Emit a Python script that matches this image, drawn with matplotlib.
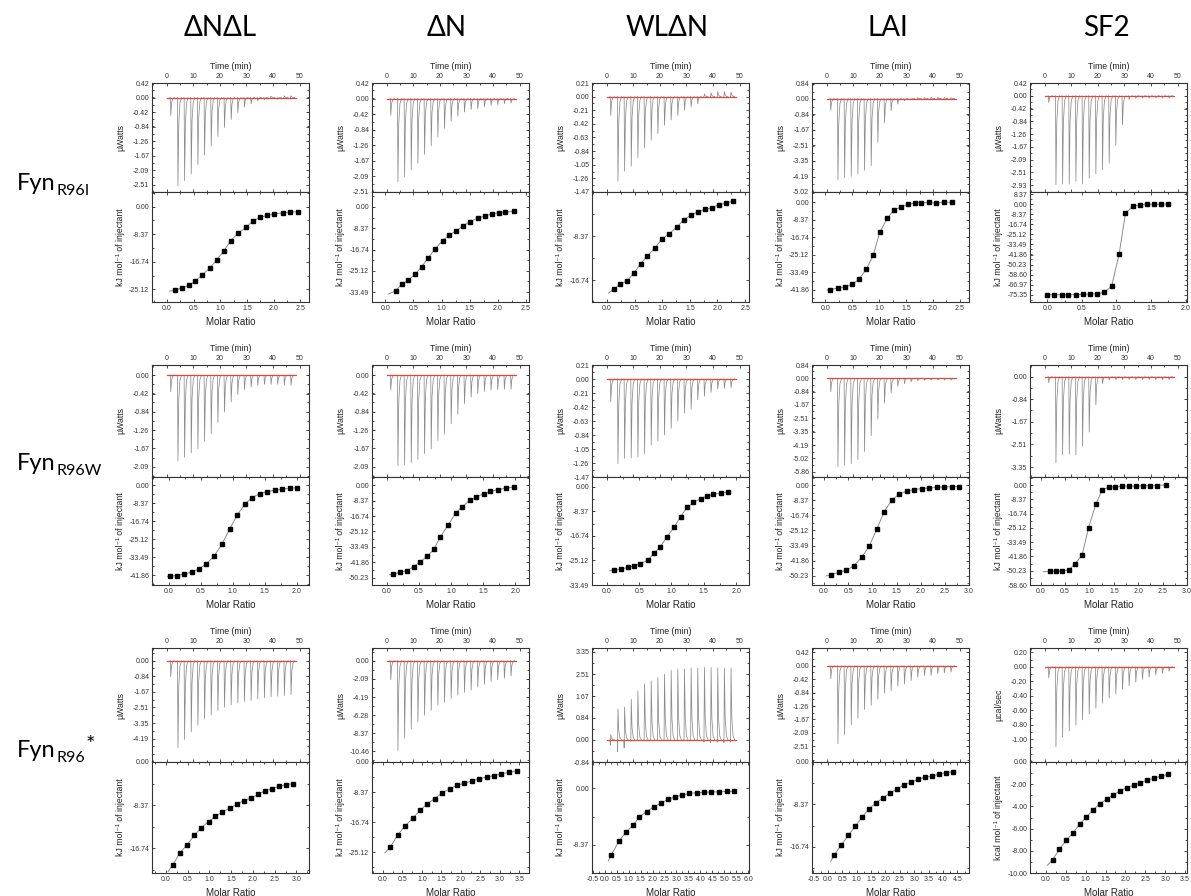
#!/usr/bin/env python3
"""
ITC titrations of three Fyn SH3 variants against five peptides
"""

import matplotlib.pyplot as plt
from matplotlib.ticker import AutoMinorLocator

W, H = 1191, 896

plt.rcParams['font.family'] = ['Liberation Sans', 'DejaVu Sans']
plt.rcParams['axes.edgecolor'] = '#333333'
plt.rcParams['axes.linewidth'] = 0.8
plt.rcParams['xtick.color'] = '#333333'
plt.rcParams['ytick.color'] = '#333333'
plt.rcParams['axes.labelcolor'] = '#222222'

peptides = ['ΔNΔL', 'ΔN', 'WLΔN', 'LAI', 'SF2']
variants = [('Fyn', 'R96I', ''), ('Fyn', 'R96W', ''), ('Fyn', 'R96', '*')]

# injection times (min), shared by all runs
inj_time = [1.3, 4.0, 6.5, 9.0, 11.5, 14.0, 16.5, 19.0, 21.5, 24.0,
            26.5, 29.0, 31.5, 34.0, 36.5, 39.0, 41.5, 44.0, 46.5]
time_ticks = ['0', '10', '20', '30', '40', '50']
ratio_ticks = ['-0.5', '0.0', '0.5', '1.0', '1.5', '2.0', '2.5', '3.0',
               '3.5', '4.0', '4.5', '5.0', '5.5', '6.0']

# y tick labels (values are the labels)
uw_021 = ['0.21', '0.00', '-0.21', '-0.42', '-0.63', '-0.84', '-1.05', '-1.26', '-1.47']
uw_042 = ['0.42', '0.00', '-0.42', '-0.84', '-1.26', '-1.67', '-2.09', '-2.51', '-2.93']
uw_084 = ['0.84', '0.00', '-0.84', '-1.67', '-2.51', '-3.35', '-4.19', '-5.02', '-5.86']
uw_209 = ['0.00', '-2.09', '-4.19', '-6.28', '-8.37', '-10.46']
uw_up = ['3.35', '2.51', '1.67', '0.84', '0.00', '-0.84']
ucal = ['0.20', '0.00', '-0.20', '-0.40', '-0.60', '-0.80', '-1.00']
kj = ['8.37', '0.00', '-8.37', '-16.74', '-25.12', '-33.49', '-41.86',
      '-50.23', '-58.60', '-66.97', '-75.35']
kcal = ['0.00', '-2.00', '-4.00', '-6.00', '-8.00', '-10.00']

# ---- Fyn R96I ----
r96i_dndl_peak = [-0.52, -2.54, -2.39, -2.20, -1.93, -1.66, -1.40, -1.12, -0.86, -0.63,
                  -0.44, -0.27, -0.18, -0.10, -0.06, 0.04, -0.05, 0.05, 0.05]
r96i_dndl_ratio = [0.16, 0.28, 0.41, 0.53, 0.66, 0.80, 0.93, 1.06, 1.19, 1.33,
                   1.48, 1.61, 1.75, 1.88, 2.01, 2.18, 2.31, 2.46]
r96i_dndl_heat = [-25.4, -24.7, -23.9, -22.7, -20.7, -18.7, -16.2, -13.6, -10.4, -8.1,
                  -6.3, -4.3, -3.2, -2.6, -2.2, -1.8, -1.6, -1.5]

r96i_dn_peak = [-0.45, -2.23, -2.10, -1.92, -1.74, -1.50, -1.27, -1.03, -0.80, -0.60,
                -0.47, -0.36, -0.29, -0.27, -0.22, -0.18, -0.16, -0.13, -0.12]
r96i_dn_ratio = [0.18, 0.29, 0.41, 0.53, 0.65, 0.76, 0.88, 1.02, 1.14, 1.26,
                 1.38, 1.50, 1.65, 1.78, 1.90, 2.03, 2.14, 2.29]
r96i_dn_heat = [-33.0, -30.5, -28.8, -26.4, -23.5, -20.0, -16.7, -13.2, -11.1, -9.4,
                -7.5, -5.8, -4.4, -3.5, -2.7, -2.2, -2.0, -1.7]

r96i_wldn_peak = [-0.29, -1.30, -1.15, -1.07, -0.94, -0.79, -0.67, -0.57, -0.44, -0.36,
                  -0.29, -0.21, -0.16, -0.11, 0.04, 0.06, 0.08, 0.08, 0.07]
r96i_wldn_ratio = [0.12, 0.24, 0.36, 0.49, 0.61, 0.73, 0.87, 1.00, 1.13, 1.27,
                   1.39, 1.52, 1.64, 1.77, 1.90, 2.03, 2.15, 2.28]
r96i_wldn_heat = [-18.5, -17.5, -16.9, -15.4, -13.6, -12.2, -10.6, -8.9, -7.9, -6.6,
                  -5.3, -4.4, -3.8, -3.3, -3.0, -2.4, -2.1, -1.7]

r96i_lai_peak = [-0.63, -4.38, -4.25, -4.18, -4.05, -3.85, -3.60, -2.35, -1.30, -0.65,
                 -0.30, -0.12, -0.05, 0.05, 0.05, 0.06, 0.06, 0.06, 0.05]
r96i_lai_ratio = [0.09, 0.24, 0.36, 0.50, 0.62, 0.76, 0.89, 1.01, 1.15, 1.27,
                  1.40, 1.53, 1.66, 1.78, 1.92, 2.06, 2.20, 2.36]
r96i_lai_heat = [-41.9, -41.0, -40.6, -39.4, -37.0, -32.2, -25.3, -14.5, -7.7, -4.0,
                 -2.4, -1.1, -0.5, -0.3, -0.2, -0.5, 0.0, -0.2]

r96i_sf2_peak = [-0.22, -2.91, -2.89, -2.89, -2.80, -2.89, -2.70, -2.55, -2.42, -2.20,
                 -1.62, -0.95, -0.12, -0.08, -0.07, -0.07, -0.07, -0.07, -0.07]
r96i_sf2_ratio = [0.00, 0.10, 0.21, 0.30, 0.41, 0.51, 0.62, 0.72, 0.82, 0.93,
                  1.04, 1.13, 1.24, 1.34, 1.44, 1.55, 1.65, 1.75]
r96i_sf2_heat = [-75.4, -75.4, -75.4, -75.4, -75.4, -75.1, -74.9, -74.6, -73.5, -68.4,
                 -41.1, -7.5, -1.4, -0.6, 0.0, 0.0, 0.0, 0.3]

# ---- Fyn R96W ----
r96w_dndl_peak = [-0.38, -1.95, -1.87, -1.77, -1.68, -1.51, -1.34, -1.08, -0.84, -0.61,
                  -0.44, -0.33, -0.27, -0.23, -0.21, -0.21, -0.21, -0.23, -0.23]
r96w_dndl_ratio = [0.02, 0.13, 0.24, 0.36, 0.48, 0.59, 0.71, 0.83, 0.95, 1.07,
                   1.19, 1.30, 1.42, 1.54, 1.66, 1.77, 1.89, 2.01]
r96w_dndl_heat = [-42.4, -42.1, -41.4, -40.4, -38.9, -36.6, -33.0, -27.5, -20.5, -13.8,
                  -8.8, -5.7, -3.9, -2.9, -2.2, -1.7, -1.4, -1.1]

r96w_dn_peak = [-0.34, -2.06, -2.04, -2.00, -1.92, -1.79, -1.68, -1.49, -1.34, -1.11,
                -0.89, -0.65, -0.50, -0.42, -0.37, -0.34, -0.33, -0.32, -0.32]
r96w_dn_ratio = [0.10, 0.21, 0.31, 0.42, 0.52, 0.63, 0.73, 0.83, 0.95, 1.07,
                 1.17, 1.29, 1.39, 1.51, 1.61, 1.73, 1.85, 1.98]
r96w_dn_heat = [-48.2, -47.3, -46.4, -44.2, -41.5, -38.6, -34.9, -28.2, -21.8, -15.1,
                -11.8, -8.2, -6.4, -4.5, -3.3, -2.4, -1.5, -0.9]

r96w_wldn_peak = [-0.34, -1.27, -1.19, -1.18, -1.17, -1.12, -0.99, -0.93, -0.84, -0.74,
                  -0.63, -0.51, -0.45, -0.31, -0.26, -0.20, -0.15, -0.14, -0.13]
r96w_wldn_ratio = [0.11, 0.22, 0.32, 0.42, 0.52, 0.63, 0.73, 0.83, 0.93, 1.04,
                   1.14, 1.24, 1.34, 1.45, 1.55, 1.65, 1.77, 1.87]
r96w_wldn_heat = [-28.4, -28.1, -27.5, -26.9, -26.2, -25.1, -22.6, -20.4, -17.0, -13.8,
                  -10.2, -7.0, -5.3, -4.0, -3.1, -2.5, -2.1, -1.7]

r96w_lai_peak = [-0.84, -5.55, -5.45, -5.35, -5.10, -4.60, -3.60, -2.55, -1.55, -0.90,
                 -0.50, -0.33, -0.22, -0.15, -0.12, -0.10, -0.10, -0.10, -0.10]
r96w_lai_ratio = [0.15, 0.31, 0.46, 0.62, 0.78, 0.93, 1.09, 1.24, 1.40, 1.55,
                  1.71, 1.86, 2.02, 2.17, 2.33, 2.48, 2.64, 2.79]
r96w_lai_heat = [-49.6, -48.3, -47.3, -44.6, -40.0, -34.0, -24.5, -14.8, -8.3, -5.0,
                 -3.3, -2.4, -1.9, -1.5, -1.2, -0.9, -0.8, -0.7]

r96w_sf2_peak = [-0.22, -3.19, -2.90, -2.87, -2.90, -2.57, -2.05, -1.04, -0.25, -0.12,
                 -0.10, -0.10, -0.10, -0.10, -0.10, -0.10, -0.10, -0.10, -0.10]
r96w_sf2_ratio = [0.18, 0.31, 0.44, 0.57, 0.70, 0.85, 0.98, 1.13, 1.26, 1.39,
                  1.53, 1.67, 1.81, 1.95, 2.10, 2.25, 2.39, 2.56]
r96w_sf2_heat = [-50.6, -50.6, -50.4, -49.8, -46.3, -41.0, -25.0, -11.2, -2.9, -1.2,
                 -1.0, -0.6, -0.6, -0.6, -0.4, -0.4, -0.2, 0.2]

# ---- Fyn R96* ----
r96x_dndl_peak = [-0.86, -4.69, -4.23, -3.83, -3.47, -3.14, -2.92, -2.68, -2.50, -2.37,
                  -2.26, -2.19, -2.14, -2.04, -1.99, -1.95, -1.90, -1.86, -1.82]
r96x_dndl_ratio = [0.16, 0.32, 0.49, 0.65, 0.81, 0.98, 1.14, 1.30, 1.47, 1.63,
                   1.79, 1.96, 2.12, 2.28, 2.45, 2.61, 2.77, 2.93]
r96x_dndl_heat = [-20.0, -17.7, -16.1, -14.3, -12.8, -11.6, -10.6, -9.7, -9.0, -8.2,
                  -7.5, -7.0, -6.3, -5.6, -5.2, -4.7, -4.4, -4.2]

r96x_dn_peak = [-2.20, -10.40, -8.95, -7.86, -7.08, -6.30, -5.72, -5.14, -4.82, -4.36,
                -3.97, -3.66, -3.39, -3.00, -2.72, -2.41, -2.20, -2.02, -1.75]
r96x_dn_ratio = [0.19, 0.38, 0.57, 0.76, 0.95, 1.14, 1.33, 1.52, 1.71, 1.90,
                 2.09, 2.28, 2.47, 2.66, 2.85, 3.04, 3.23, 3.45]
r96x_dn_heat = [-23.7, -20.3, -17.8, -15.7, -13.5, -11.6, -10.2, -8.6, -7.5, -6.5,
                -5.9, -5.3, -4.7, -4.2, -3.8, -3.3, -2.9, -2.4]

r96x_wldn_peak = [0.20, 1.18, 1.25, 1.55, 1.87, 2.14, 2.25, 2.37, 2.50, 2.65,
                  2.70, 2.71, 2.74, 2.74, 2.76, 2.76, 2.74, 2.74, 2.74]
r96x_wldn_dip = [-0.20, -0.45, -0.30, -0.05, 0.0, 0.0, 0.0, 0.0, 0.0, 0.0,
                 0.0, 0.0, 0.0, 0.0, -0.08, -0.10, -0.08, -0.10, -0.08]
r96x_wldn_ratio = [0.28, 0.61, 0.90, 1.20, 1.45, 1.75, 2.07, 2.34, 2.65, 2.95,
                   3.24, 3.54, 3.85, 4.15, 4.46, 4.79, 5.10, 5.40]
r96x_wldn_heat = [-9.85, -7.78, -6.50, -5.42, -4.24, -3.45, -2.71, -2.22, -1.63, -1.23,
                  -0.99, -0.74, -0.64, -0.59, -0.54, -0.49, -0.44, -0.44]

r96x_lai_peak = [-0.40, -2.43, -2.16, -1.84, -1.63, -1.36, -1.23, -1.04, -0.85, -0.78,
                 -0.62, -0.56, -0.46, -0.35, -0.30, -0.30, -0.24, -0.21, -0.19]
r96x_lai_ratio = [0.22, 0.46, 0.71, 0.95, 1.19, 1.44, 1.68, 1.92, 2.16, 2.41,
                  2.65, 2.89, 3.14, 3.38, 3.62, 3.86, 4.11, 4.35]
r96x_lai_heat = [-18.4, -16.4, -14.5, -12.7, -10.9, -9.2, -8.0, -7.1, -6.1, -5.3,
                 -4.5, -4.0, -3.4, -3.0, -2.8, -2.4, -2.1, -1.9]

r96x_sf2_peak = [-0.15, -1.10, -0.97, -0.88, -0.80, -0.73, -0.65, -0.57, -0.50, -0.43,
                 -0.37, -0.31, -0.26, -0.21, -0.17, -0.14, -0.11, -0.09, -0.06]
r96x_sf2_ratio = [0.17, 0.34, 0.51, 0.68, 0.85, 1.02, 1.19, 1.36, 1.53, 1.70,
                  1.87, 2.04, 2.21, 2.38, 2.55, 2.72, 2.89, 3.06]
r96x_sf2_heat = [-8.8, -7.85, -7.05, -6.4, -5.6, -4.95, -4.3, -3.75, -3.35, -2.95,
                 -2.6, -2.3, -2.1, -1.85, -1.65, -1.45, -1.3, -1.1]

# per panel: data + axis ranges/tick labels, row by row
panels = [
    # Fyn R96I
    dict(peak=r96i_dndl_peak, ratio=r96i_dndl_ratio, heat=r96i_dndl_heat, fit0=(0.05, -25.7),
         top_ylim=(-2.72, 0.42), top_ticks=uw_042[:8],
         bot_ylim=(-29.0, 4.5), bot_ticks=kj[1:5], xlim=(-0.28, 2.66)),
    dict(peak=r96i_dn_peak, ratio=r96i_dn_ratio, heat=r96i_dn_heat, fit0=(0.05, -34.3),
         top_ylim=(-2.51, 0.42), top_ticks=uw_042[:8],
         bot_ylim=(-37.4, 5.9), bot_ticks=kj[1:6], xlim=(-0.24, 2.56)),
    dict(peak=r96i_wldn_peak, ratio=r96i_wldn_ratio, heat=r96i_wldn_heat, fit0=(0.03, -19.2),
         top_ylim=(-1.47, 0.21), top_ticks=uw_021,
         bot_ylim=(-20.9, 0.0), bot_ticks=kj[2:4], xlim=(-0.27, 2.57)),
    dict(peak=r96i_lai_peak, ratio=r96i_lai_ratio, heat=r96i_lai_heat, fit0=(0.03, -42.1),
         top_ylim=(-5.02, 0.84), top_ticks=uw_084[:8],
         bot_ylim=(-47.8, 4.8), bot_ticks=kj[1:7], xlim=(-0.25, 2.67)),
    dict(peak=r96i_sf2_peak, ratio=r96i_sf2_ratio, heat=r96i_sf2_heat, fit0=(-0.02, -75.4),
         top_ylim=(-3.15, 0.42), top_ticks=uw_042,
         bot_ylim=(-81.5, 10.3), bot_ticks=kj, xlim=(-0.25, 2.02)),
    # Fyn R96W
    dict(peak=r96w_dndl_peak, ratio=r96w_dndl_ratio, heat=r96w_dndl_heat, fit0=(-0.02, -42.5),
         top_ylim=(-2.32, 0.23), top_ticks=uw_042[1:7],
         bot_ylim=(-46.5, 3.9), bot_ticks=kj[1:7], xlim=(-0.26, 2.19)),
    dict(peak=r96w_dn_peak, ratio=r96w_dn_ratio, heat=r96w_dn_heat, fit0=(0.04, -48.6),
         top_ylim=(-2.32, 0.23), top_ticks=uw_042[1:7],
         bot_ylim=(-54.2, 4.5), bot_ticks=kj[1:8], xlim=(-0.23, 2.21)),
    dict(peak=r96w_wldn_peak, ratio=r96w_wldn_ratio, heat=r96w_wldn_heat, fit0=(0.04, -28.6),
         top_ylim=(-1.47, 0.21), top_ticks=uw_021,
         bot_ylim=(-33.49, 3.4), bot_ticks=kj[1:6], xlim=(-0.23, 2.2)),
    dict(peak=r96w_lai_peak, ratio=r96w_lai_ratio, heat=r96w_lai_heat, fit0=(0.05, -50.3),
         top_ylim=(-6.2, 0.84), top_ticks=uw_084,
         bot_ylim=(-55.4, 4.6), bot_ticks=kj[1:8], xlim=(-0.25, 3.0)),
    dict(peak=r96w_sf2_peak, ratio=r96w_sf2_ratio, heat=r96w_sf2_heat, fit0=(0.05, -50.8),
         top_ylim=(-3.72, 0.44), top_ticks=uw_084[1:6],
         bot_ylim=(-58.6, 4.8), bot_ticks=kj[1:9], xlim=(-0.22, 3.0)),
    # Fyn R96*
    dict(peak=r96x_dndl_peak, ratio=r96x_dndl_ratio, heat=r96x_dndl_heat, fit0=(0.05, -21.3),
         top_ylim=(-5.45, 0.69), top_ticks=uw_084[1:7],
         bot_ylim=(-21.6, 0.0), bot_ticks=kj[1:4], xlim=(-0.32, 3.29)),
    dict(peak=r96x_dn_peak, ratio=r96x_dn_ratio, heat=r96x_dn_heat, fit0=(0.05, -25.3),
         top_ylim=(-11.7, 1.48), top_ticks=uw_209,
         bot_ylim=(-30.9, 0.0), bot_ticks=kj[1:5], xlim=(-0.28, 3.75)),
    dict(peak=r96x_wldn_peak, dip=r96x_wldn_dip, ratio=r96x_wldn_ratio, heat=r96x_wldn_heat,
         fit0=(0.15, -10.8),
         top_ylim=(-0.84, 3.5), top_ticks=uw_up,
         bot_ylim=(-12.6, 3.94), bot_ticks=kj[1:3], xlim=(-0.53, 6.03)),
    dict(peak=r96x_lai_peak, ratio=r96x_lai_ratio, heat=r96x_lai_heat, fit0=(0.1, -19.6),
         top_ylim=(-3.0, 0.56), top_ticks=uw_042[:8],
         bot_ylim=(-21.9, 0.0), bot_ticks=kj[1:4], xlim=(-0.55, 4.9)),
    dict(peak=r96x_sf2_peak, ratio=r96x_sf2_ratio, heat=r96x_sf2_heat, fit0=(0.04, -9.3),
         top_ylim=(-1.31, 0.26), top_ticks=ucal, top_label='µcal/sec',
         bot_ylim=(-10.0, 0.0), bot_ticks=kcal, bot_label='kcal mol⁻¹ of injectant',
         xlim=(-0.4, 3.55)),
]

# layout in pixels
col_left = [152, 372, 592, 812, 1030]
col_width = 157
row_box = [(83, 192, 302), (365, 477, 585), (648, 762, 873)]
header_x = [220, 447, 667, 888, 1106]
label_y = [190, 470, 757]


def px_axes(fig, left, top, width, height):
    return fig.add_axes([left / W, 1 - (top + height) / H, width / W, height / H])


def style(ax):
    ax.xaxis.set_minor_locator(AutoMinorLocator(2))
    ax.yaxis.set_minor_locator(AutoMinorLocator(2))
    ax.tick_params(which='both', direction='in', top=True, right=True,
                   labelsize=5, width=0.6, pad=2)
    ax.tick_params(which='major', length=2.5)
    ax.tick_params(which='minor', length=1.5)


def set_yticks(ax, labels):
    ax.set_yticks([float(s) for s in labels])
    ax.set_yticklabels(labels)


def plot_panel(fig, p, row, col):
    top, mid, bot = row_box[row]
    left = col_left[col]

    # raw heat trace: one narrow needle per injection
    ax = px_axes(fig, left, top, col_width, mid - top)
    style(ax)
    dips = p.get('dip', [0.0] * len(inj_time))
    for t, pk, dp in zip(inj_time, p['peak'], dips):
        ax.plot([t, t + 0.08, t + 0.25, t + 0.55, t + 1.0, t + 1.6],
                [0, dp, pk, 0.3 * pk, 0.06 * pk, 0],
                color='#8c8c8c', lw=0.55)
    ax.plot([0, 48.5], [0, 0], color='#e5453e', lw=0.9, zorder=3)
    ax.set_xlim(-5.5, 53.5)
    ax.set_xticks([float(s) for s in time_ticks])
    ax.set_xticklabels(time_ticks)
    ax.tick_params(axis='x', labeltop=True, labelbottom=False)
    ax.xaxis.set_label_position('top')
    ax.set_xlabel('Time (min)', fontsize=6.3, labelpad=3)
    ax.set_ylim(*p['top_ylim'])
    set_yticks(ax, p['top_ticks'])
    ax.set_ylabel(p.get('top_label', 'µWatts'), fontsize=6.3)
    ax.yaxis.set_label_coords(-0.17, 0.5)

    # integrated heats with fitted curve
    bx = px_axes(fig, left, mid, col_width, bot - mid)
    style(bx)
    bx.plot([p['fit0'][0]] + p['ratio'], [p['fit0'][1]] + p['heat'],
            color='#8c8c8c', lw=0.7)
    bx.plot(p['ratio'], p['heat'], 's', ms=3.2, color='black')
    bx.set_xlim(*p['xlim'])
    xt = [s for s in ratio_ticks
          if p['xlim'][0] - 1e-6 <= float(s) <= p['xlim'][1] + 1e-6]
    bx.set_xticks([float(s) for s in xt])
    bx.set_xticklabels(xt)
    bx.set_xlabel('Molar Ratio', fontsize=7, labelpad=3.5)
    bx.set_ylim(*p['bot_ylim'])
    set_yticks(bx, p['bot_ticks'])
    bx.set_ylabel(p.get('bot_label', 'kJ mol⁻¹ of injectant'), fontsize=6.3)
    bx.yaxis.set_label_coords(-0.17, 0.5)


def main():
    fig = plt.figure(figsize=(W / 100, H / 100), dpi=100)

    for i, p in enumerate(panels):
        plot_panel(fig, p, i // 5, i % 5)

    for x, name in zip(header_x, peptides):
        fig.text(x / W, 1 - 28 / H, name, ha='center', va='center', fontsize=20,
                 family=['Lato', 'DejaVu Sans'], color='black')

    # row labels: Fyn with subscript variant name
    rend = fig.canvas.get_renderer()
    for (name, sub, sup), y in zip(variants, label_y):
        t = fig.text(17 / W, 1 - y / H, name, fontsize=17, va='baseline',
                     family=['Lato', 'DejaVu Sans'])
        bb = t.get_window_extent(rend)
        ts = fig.text(bb.x1 / W + 0.001, 1 - (y + 5) / H, sub, fontsize=11.5,
                      va='baseline', family=['Lato', 'DejaVu Sans'])
        if sup:
            bb2 = ts.get_window_extent(rend)
            fig.text(bb2.x1 / W, 1 - (y - 6) / H, sup, fontsize=16,
                     va='baseline', family=['Lato', 'DejaVu Sans'])

    fig.savefig('out.png', dpi=100)


if __name__ == '__main__':
    main()
